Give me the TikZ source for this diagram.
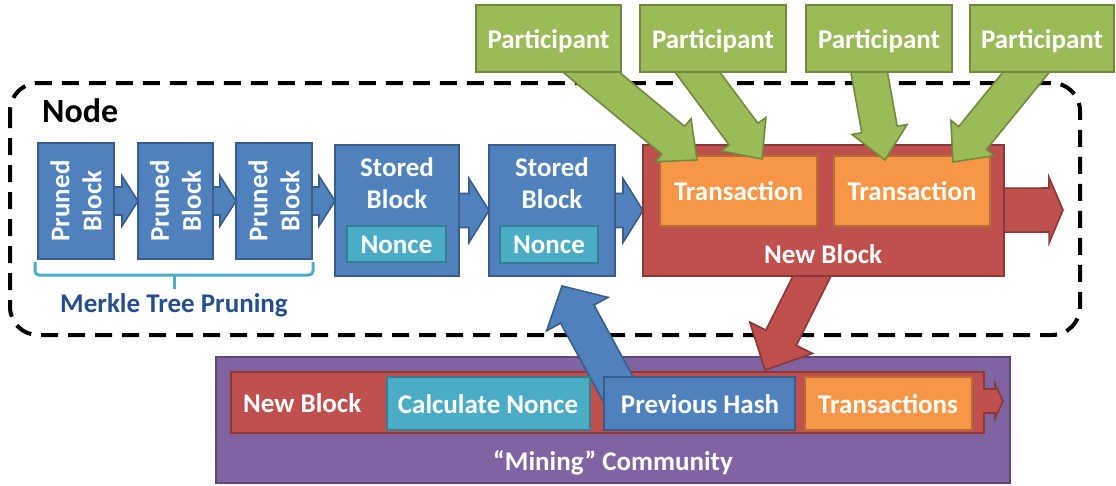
\documentclass[tikz,border=0pt]{standalone}
\usepackage{fontspec}
\setmainfont{Carlito}
\usetikzlibrary{calc}
\definecolor{blueF}{HTML}{4F81BD}\definecolor{blueD}{HTML}{385D8A}
\definecolor{redF}{HTML}{C0504D}\definecolor{redD}{HTML}{8C3836}
\definecolor{greenF}{HTML}{9BBB59}\definecolor{greenD}{HTML}{71893F}
\definecolor{orangeF}{HTML}{F79646}\definecolor{orangeD}{HTML}{B66D31}
\definecolor{tealF}{HTML}{4BACC6}\definecolor{tealD}{HTML}{357D91}
\definecolor{purpleF}{HTML}{8064A2}\definecolor{purpleD}{HTML}{5C4776}
\definecolor{merkle}{HTML}{254E8F}
% #1 style, #2 start, #3 tip, #4 half shaft, #5 half head, #6 head length
\newcommand{\blockarrow}[6]{%
  \coordinate (ba) at #2; \coordinate (bb) at #3;
  \coordinate (bh) at ($(bb)!#6!(ba)$);
  \draw[#1] ($(ba)!#4!90:(bb)$) -- ($(bh)!#4!90:(bb)$) -- ($(bh)!#5!90:(bb)$) -- (bb)
    -- ($(bh)!#5!-90:(bb)$) -- ($(bh)!#4!-90:(bb)$) -- ($(ba)!#4!-90:(bb)$) -- cycle;}
% #1 style, #2 name, #3 x1, #4 y1, #5 x2, #6 y2, #7 text
\newcommand{\bx}[7]{\node[#1, minimum width={#5-#3}, minimum height={#6-#4}] (#2) at ({(#3+#5)/2},{(#4+#6)/2}) {#7};}
\begin{document}
\begin{tikzpicture}[x=1pt,y=-1pt,
  base/.style={line width=1.6pt, inner sep=0pt, outer sep=0pt, line join=miter},
  bluebox/.style={base, draw=blueD, fill=blueF},
  redbox/.style={base, draw=redD, fill=redF},
  greenbox/.style={base, draw=greenD, fill=greenF},
  orangebox/.style={base, draw=orangeD, fill=orangeF},
  tealbox/.style={base, draw=tealD, fill=tealF},
  purplebox/.style={base, draw=purpleD, fill=purpleF},
  txt/.style={text=white, font=\fontsize{27}{32}\selectfont\bfseries, inner sep=0pt, align=center},
  barblue/.style={base, draw=blueD, fill=blueF},
  barred/.style={base, draw=redD, fill=redF},
  bargreen/.style={base, draw=greenD, fill=greenF},
  nodebox/.style={draw=black, line width=4pt, dash pattern=on 17pt off 10pt, rounded corners=28pt},
  brace/.style={draw=tealF, line width=3pt, rounded corners=4pt}
]
\useasboundingbox (0,0) rectangle (1116,485);
% dashed Node container
\draw[nodebox] (10,83) rectangle (1080,335);
\node[anchor=base west, font=\fontsize{34}{38}\selectfont\bfseries, inner sep=0pt] (nodelbl) at (42,122) {Node};

% Mining community
\bx{purplebox}{mine}{216}{357}{1010}{483}{}
\node[txt, anchor=base] (minelbl) at (613,470) {“Mining” Community};
\coordinate (bartip) at (1003,401);
\coordinate (barmid) at (960,401);
\blockarrow{barred}{(barmid)}{(bartip)}{12pt}{17.5pt}{8pt}
\bx{redbox}{bar}{231}{372}{984}{433}{}
\fill[redF] (982,389.8) rectangle (987,412.2);
\node[txt, anchor=base west] (barlbl) at (243,412) {New Block};

% arrows between mining and node
\coordinate (bs) at (624,400);
\coordinate (rs) at (825,250);
\coordinate (rt) at (765,370);
\blockarrow{barblue}{(bs)}{(562,286)}{19pt}{35pt}{32pt}
\blockarrow{barred}{(rs)}{(rt)}{17pt}{35pt}{36pt}

\bx{tealbox}{cn}{387}{377}{590}{430}{}
\bx{bluebox}{ph}{604}{377}{795}{430}{}
\bx{orangebox}{txs}{805}{377}{972}{430}{}
\node[txt, anchor=base] (cnl) at (488,413) {Calculate Nonce};
\node[txt, anchor=base] (phl) at (700,413) {Previous Hash};
\node[txt, anchor=base] (txsl) at (888,413) {Transactions};

% blockchain boxes and arrows
\coordinate (out) at (1063,210);
\bx{bluebox}{pb1}{38}{143}{114}{259}{}
\bx{bluebox}{pb2}{138}{143}{213}{259}{}
\bx{bluebox}{pb3}{236}{143}{312}{259}{}
\bx{bluebox}{st1}{335}{145}{459}{276}{}
\bx{bluebox}{st2}{489}{145}{615}{276}{}
\bx{redbox}{nb}{643}{145}{1004}{276}{}
\blockarrow{barblue}{(pb1.center)}{(pb2.west)}{14pt}{25pt}{16pt}
\blockarrow{barblue}{(pb2.center)}{(pb3.west)}{14pt}{25pt}{16pt}
\blockarrow{barblue}{(pb3.center)}{(pb3 -| st1.west)}{14pt}{25pt}{16pt}
\blockarrow{barblue}{(st1.center)}{(st2.west)}{17pt}{32pt}{20pt}
\blockarrow{barblue}{(st2.center)}{(nb.west)}{17pt}{32pt}{20pt}
\blockarrow{barred}{(nb.center)}{(out)}{22pt}{33pt}{14pt}
% boxes again over the arrow tails
\bx{bluebox}{pb1b}{38}{143}{114}{259}{}
\bx{bluebox}{pb2b}{138}{143}{213}{259}{}
\bx{bluebox}{pb3b}{236}{143}{312}{259}{}
\bx{bluebox}{st1b}{335}{145}{459}{276}{}
\bx{bluebox}{st2b}{489}{145}{615}{276}{}
\bx{redbox}{nbb}{643}{145}{1004}{276}{}

\node[txt, rotate=90] (pb1l) at (pb1) {Pruned\\Block};
\node[txt, rotate=90] (pb2l) at (pb2) {Pruned\\Block};
\node[txt, rotate=90] (pb3l) at (pb3) {Pruned\\Block};
\node[txt] (st1l) at (397,183) {Stored\\Block};
\node[txt] (st2l) at (552,183) {Stored\\Block};
\bx{tealbox}{n1}{347}{226}{446}{262}{}
\bx{tealbox}{n2}{500}{226}{598}{263}{}
\node[txt, anchor=base] (n1l) at (396.5,253) {Nonce};
\node[txt, anchor=base] (n2l) at (549,253) {Nonce};
\bx{orangebox}{tx1}{660}{156}{817}{226}{}
\bx{orangebox}{tx2}{834}{156}{990}{226}{}
\node[txt, anchor=base] (tx1l) at (738.5,200) {Transaction};
\node[txt, anchor=base] (tx2l) at (912,200) {Transaction};
\node[txt, anchor=base] (nbl) at (823,263) {New Block};

% Merkle brace
\draw[brace] (35,262) -- (35,275) -- (313,275) -- (313,262);
\draw[brace, rounded corners=0pt] (174,275) -- (174,289);
\node[anchor=base, text=merkle, font=\fontsize{27}{30}\selectfont\bfseries, inner sep=0pt] (mk) at (174,312) {Merkle Tree Pruning};

% participants
\coordinate (s1) at (550,38);
\coordinate (s2) at (672,38);
\coordinate (s3) at (863,38);
\coordinate (s4) at (1054,38);
\blockarrow{bargreen}{(s1)}{(697,160)}{18pt}{28pt}{31pt}
\blockarrow{bargreen}{(s2)}{(762,159)}{18pt}{28pt}{31pt}
\blockarrow{bargreen}{(s3)}{(885,160)}{18pt}{28pt}{31pt}
\blockarrow{bargreen}{(s4)}{(953,162)}{18pt}{28pt}{31pt}
\bx{greenbox}{p1}{476}{5}{621}{72}{}
\bx{greenbox}{p2}{640}{5}{786}{72}{}
\bx{greenbox}{p3}{806}{5}{952}{72}{}
\bx{greenbox}{p4}{970}{5}{1114}{72}{}
\node[txt, anchor=base] (p1l) at (548.5,48) {Participant};
\node[txt, anchor=base] (p2l) at (713,48) {Participant};
\node[txt, anchor=base] (p3l) at (879,48) {Participant};
\node[txt, anchor=base] (p4l) at (1042,48) {Participant};
\end{tikzpicture}
\end{document}
